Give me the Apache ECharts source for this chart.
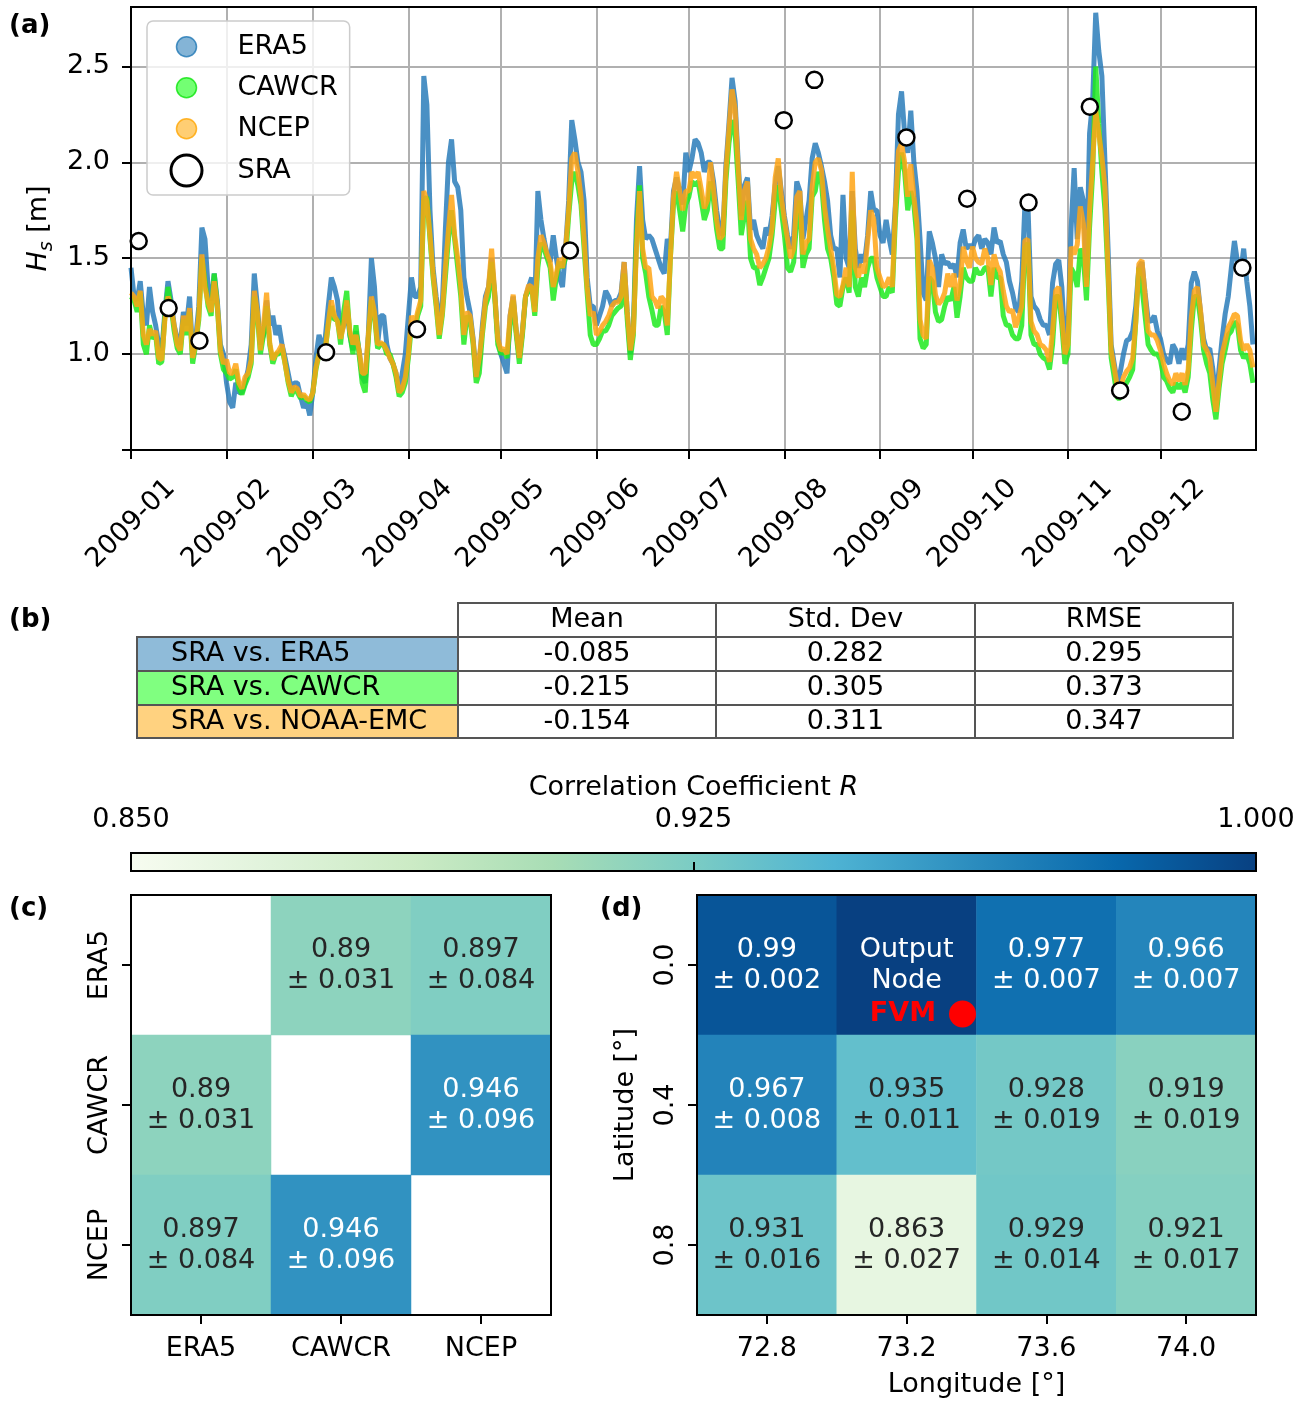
<!DOCTYPE html>
<html>
<head>
<meta charset="utf-8">
<script src="https://cdn.jsdelivr.net/npm/echarts@6/dist/echarts.min.js"></script>
<style>
  html, body { margin: 0; padding: 0; background: #fff; }
  #chart { width: 1307px; height: 1403px; }
</style>
</head>
<body>
<div id="chart"></div>
<script>
// ---------- data ----------
// daily significant wave height [m], 2009-01-01 .. 2009-12-31
const era5 = [
  1.45,1.30,1.28,1.38,1.20,1.15,1.35,1.22,1.15,1.05,
  1.02,1.22,1.38,1.28,1.15,1.08,1.05,1.22,1.15,1.30,
  1.00,1.08,1.25,1.66,1.60,1.35,1.28,1.42,1.28,1.05,
  1.00,0.85,0.75,0.72,0.85,0.80,0.80,0.85,0.92,1.05,
  1.42,1.25,1.05,1.10,1.28,1.15,1.20,1.10,1.15,1.05,
  0.98,0.90,0.82,0.85,0.85,0.78,0.72,0.75,0.68,0.80,
  0.98,1.10,1.05,1.08,1.25,1.40,1.35,1.28,1.10,1.15,
  1.25,1.10,1.02,1.12,1.02,0.88,0.85,1.10,1.50,1.35,
  1.05,1.20,1.20,1.05,0.98,0.95,0.90,0.80,0.90,1.00,
  1.20,1.40,1.30,1.30,1.35,2.45,2.30,1.75,1.45,1.30,
  1.20,1.25,1.65,2.00,2.12,1.90,1.87,1.75,1.40,1.30,
  1.22,1.08,0.88,0.95,1.15,1.30,1.35,1.50,1.32,1.08,
  1.00,0.95,0.90,1.20,1.30,1.12,0.98,1.12,1.30,1.35,
  1.40,1.25,1.85,1.70,1.60,1.52,1.48,1.62,1.50,1.40,
  1.35,1.55,1.80,2.22,2.12,2.00,1.95,1.80,1.40,1.25,
  1.25,1.15,1.20,1.25,1.33,1.30,1.25,1.28,1.28,1.32,
  1.48,1.22,1.00,1.15,1.70,1.98,1.70,1.60,1.62,1.60,
  1.55,1.50,1.45,1.42,1.60,1.55,1.85,1.92,1.85,1.78,
  2.05,1.95,2.02,2.12,2.10,2.05,1.95,2.00,2.00,1.90,
  1.75,1.65,1.62,1.98,2.20,2.44,2.32,2.00,1.72,1.88,
  1.92,1.65,1.70,1.62,1.58,1.55,1.66,1.62,1.72,1.88,
  1.98,1.85,1.72,1.62,1.55,1.62,1.90,1.85,1.60,1.70,
  1.80,2.02,2.10,2.05,1.98,1.90,1.80,1.62,1.55,1.55,
  1.40,1.83,1.50,1.45,1.85,1.55,1.45,1.52,1.48,1.62,
  1.85,1.75,1.75,1.62,1.58,1.70,1.60,1.52,1.78,2.25,
  2.37,2.15,2.05,2.27,2.00,1.85,1.60,1.32,1.28,1.64,
  1.58,1.50,1.35,1.52,1.47,1.48,1.45,1.47,1.40,1.58,
  1.65,1.55,1.57,1.55,1.60,1.62,1.55,1.60,1.58,1.52,
  1.66,1.58,1.59,1.52,1.48,1.38,1.32,1.24,1.22,1.38,
  1.77,1.78,1.30,1.25,1.23,1.18,1.15,1.15,1.10,1.37,
  1.47,1.49,1.35,1.05,1.12,1.65,1.97,1.60,1.87,1.80,
  1.40,2.15,2.32,2.78,2.58,2.45,2.00,1.55,1.05,0.95,
  0.85,0.91,1.00,1.07,1.08,1.12,1.25,1.45,1.48,1.32,
  1.18,1.17,1.20,1.12,1.08,1.00,0.97,0.95,1.05,1.02,
  0.95,1.03,0.97,1.05,1.37,1.43,1.38,1.22,1.08,1.02,
  1.03,0.92,0.76,0.92,1.08,1.21,1.30,1.45,1.59,1.48,
  1.42,1.55,1.38,1.25,1.05
];
const cawcr = [
  1.30,1.28,1.22,1.32,1.05,1.00,1.15,1.08,1.10,0.95,
  0.96,1.20,1.35,1.25,1.12,1.03,1.00,1.18,1.10,1.22,
  0.95,1.05,1.18,1.50,1.38,1.25,1.20,1.42,1.25,1.00,
  0.92,0.90,0.87,0.88,0.92,0.82,0.79,0.84,0.88,0.95,
  1.30,1.20,1.00,1.10,1.25,1.05,0.95,1.00,1.00,1.03,
  0.95,0.85,0.78,0.82,0.80,0.77,0.78,0.76,0.75,0.80,
  0.92,1.00,1.00,1.02,1.15,1.25,1.18,1.18,1.05,1.22,
  1.33,1.10,1.00,1.15,1.00,0.85,0.80,1.08,1.28,1.20,
  1.03,1.05,1.05,1.00,1.00,0.95,0.88,0.78,0.80,0.85,
  0.98,1.15,1.10,1.20,1.25,1.80,1.82,1.60,1.40,1.25,
  1.08,1.20,1.40,1.60,1.75,1.60,1.45,1.30,1.05,1.20,
  1.18,1.05,0.85,0.90,1.10,1.25,1.30,1.48,1.30,1.05,
  1.00,1.02,0.98,1.15,1.28,1.10,0.95,1.10,1.30,1.33,
  1.35,1.20,1.45,1.58,1.55,1.50,1.45,1.28,1.40,1.48,
  1.45,1.50,1.72,1.90,1.95,1.88,1.78,1.55,1.32,1.10,
  1.05,1.05,1.08,1.12,1.12,1.15,1.20,1.22,1.24,1.25,
  1.42,1.18,0.97,1.10,1.60,1.88,1.50,1.42,1.30,1.23,
  1.15,1.15,1.25,1.22,1.10,1.50,1.78,1.85,1.75,1.64,
  1.78,1.82,1.90,1.88,1.90,1.80,1.70,1.75,1.90,1.80,
  1.65,1.55,1.55,1.90,2.10,2.22,2.15,1.90,1.62,1.72,
  1.80,1.50,1.45,1.45,1.36,1.40,1.45,1.50,1.62,1.80,
  1.88,1.75,1.62,1.45,1.43,1.48,1.70,1.80,1.45,1.52,
  1.55,1.82,1.85,1.95,1.90,1.70,1.55,1.50,1.40,1.26,
  1.25,1.35,1.40,1.32,1.75,1.35,1.30,1.40,1.35,1.45,
  1.50,1.50,1.40,1.35,1.30,1.30,1.35,1.32,1.70,1.95,
  2.05,1.95,1.75,1.85,1.78,1.60,1.08,1.03,1.05,1.40,
  1.38,1.22,1.17,1.18,1.25,1.30,1.28,1.35,1.19,1.30,
  1.45,1.40,1.38,1.38,1.45,1.42,1.42,1.45,1.45,1.30,
  1.45,1.40,1.40,1.20,1.15,1.15,1.10,1.08,1.08,1.15,
  1.55,1.58,1.10,1.05,1.05,1.00,0.98,0.97,0.92,1.05,
  1.30,1.30,1.15,0.95,1.00,1.45,1.42,1.35,1.55,1.50,
  1.28,1.66,1.94,2.50,2.20,1.95,1.75,1.40,0.98,0.88,
  0.77,0.77,0.83,0.85,0.88,0.92,1.17,1.45,1.35,1.20,
  1.05,1.02,1.00,1.00,0.97,0.88,0.86,0.82,0.80,0.85,
  0.82,0.85,0.80,0.88,1.12,1.30,1.30,1.18,1.02,0.95,
  0.90,0.76,0.66,0.82,0.95,1.02,1.10,1.12,1.17,1.15,
  1.02,0.98,1.00,0.95,0.85
];
const ncep = [
  1.32,1.30,1.25,1.33,1.10,1.05,1.13,1.10,1.12,0.98,
  0.97,1.18,1.30,1.25,1.15,1.05,1.02,1.20,1.12,1.24,
  0.98,1.06,1.20,1.52,1.35,1.27,1.22,1.38,1.26,1.02,
  0.95,0.97,0.90,0.90,0.95,0.85,0.82,0.88,0.90,0.97,
  1.33,1.22,1.02,1.15,1.32,1.06,0.97,1.00,1.02,1.05,
  0.95,0.86,0.80,0.83,0.82,0.78,0.79,0.77,0.76,0.80,
  0.93,1.00,1.00,1.02,1.16,1.28,1.20,1.17,1.08,1.15,
  1.28,1.12,1.05,1.10,1.02,0.90,0.90,1.10,1.30,1.22,
  1.05,1.06,1.05,1.02,0.98,0.95,0.90,0.80,0.82,0.88,
  1.00,1.20,1.15,1.22,1.28,1.85,1.80,1.62,1.42,1.27,
  1.10,1.22,1.45,1.65,1.83,1.62,1.50,1.35,1.10,1.22,
  1.20,1.07,0.88,0.98,1.12,1.28,1.35,1.55,1.32,1.08,
  1.02,1.03,1.00,1.20,1.31,1.12,0.98,1.12,1.30,1.36,
  1.35,1.22,1.50,1.62,1.58,1.52,1.48,1.35,1.42,1.50,
  1.45,1.55,1.75,2.02,2.05,1.95,1.82,1.60,1.35,1.20,
  1.22,1.10,1.12,1.15,1.17,1.20,1.25,1.27,1.27,1.30,
  1.48,1.22,1.02,1.12,1.55,1.85,1.55,1.45,1.45,1.30,
  1.28,1.24,1.30,1.28,1.15,1.50,1.82,1.95,1.85,1.75,
  1.85,1.85,1.95,1.92,1.95,1.86,1.76,1.80,2.00,1.86,
  1.70,1.60,1.62,1.95,2.17,2.38,2.28,1.97,1.70,1.85,
  1.90,1.60,1.55,1.52,1.45,1.47,1.50,1.56,1.66,1.92,
  2.02,1.82,1.70,1.60,1.50,1.55,1.82,1.85,1.52,1.58,
  1.60,1.87,2.00,2.02,1.96,1.77,1.65,1.55,1.45,1.31,
  1.30,1.36,1.45,1.35,1.95,1.45,1.40,1.47,1.42,1.59,
  1.75,1.70,1.45,1.40,1.35,1.36,1.40,1.35,1.76,2.06,
  2.10,2.00,1.82,1.99,1.82,1.68,1.18,1.10,1.08,1.49,
  1.45,1.31,1.26,1.28,1.32,1.42,1.35,1.42,1.28,1.36,
  1.56,1.49,1.45,1.56,1.50,1.48,1.47,1.55,1.50,1.36,
  1.52,1.46,1.43,1.33,1.25,1.22,1.23,1.14,1.19,1.25,
  1.59,1.60,1.17,1.12,1.10,1.05,1.04,1.02,0.96,1.12,
  1.33,1.35,1.20,1.00,1.05,1.56,1.52,1.57,1.77,1.68,
  1.35,1.75,2.00,2.27,2.15,2.03,1.87,1.45,1.02,0.93,
  0.83,0.82,0.88,0.91,0.93,0.98,1.17,1.47,1.49,1.31,
  1.12,1.10,1.10,1.07,1.02,0.95,0.90,0.86,0.84,0.90,
  0.86,0.90,0.84,0.92,1.19,1.33,1.35,1.23,1.05,1.02,
  0.98,0.84,0.70,0.86,1.00,1.07,1.14,1.17,1.21,1.20,
  1.07,1.02,1.05,1.02,0.93
];
const seriesStart = '2009-01-01';
const seriesEnd = '2010-01-01';

// satellite radar altimetry passes
const sraTimes = [
  '2009-01-03 12:00','2009-01-13 05:00','2009-01-23 05:00','2009-03-05 07:00',
  '2009-04-03 19:00','2009-05-23 10:00','2009-07-31 19:00','2009-08-10 17:00',
  '2009-09-09 14:00','2009-09-29 07:00','2009-10-19 05:00','2009-11-08 02:00',
  '2009-11-17 22:00','2009-12-07 22:00','2009-12-27 14:00'
];
const sraHs = [1.59, 1.24, 1.07, 1.01, 1.13, 1.54, 2.22, 2.43, 2.13, 1.81, 1.79, 2.29, 0.81, 0.70, 1.45];

const monthTicks = ['2009-01','2009-02','2009-03','2009-04','2009-05','2009-06',
                    '2009-07','2009-08','2009-09','2009-10','2009-11','2009-12'];
const hsLabelTicks = [1.0, 1.5, 2.0, 2.5];
const hsTicks = [0.5, 1.0, 1.5, 2.0, 2.5];

// (b) error statistics
const statCols = ['Mean', 'Std. Dev', 'RMSE'];
const statRows = ['SRA vs. ERA5', 'SRA vs. CAWCR', 'SRA vs. NOAA-EMC'];
const statMean = [-0.085, -0.215, -0.154];
const statStd = [0.282, 0.305, 0.311];
const statRmse = [0.295, 0.373, 0.347];

// (c) model-to-model correlation
const models = ['ERA5', 'CAWCR', 'NCEP'];
const corrModels = [
  [null, 0.89, 0.897],
  [0.89, null, 0.946],
  [0.897, 0.946, null]
];
const corrModelsStd = [
  [null, 0.031, 0.084],
  [0.031, null, 0.096],
  [0.084, 0.096, null]
];

// (d) correlation of neighbouring nodes with the output node
const lonLabels = ['72.8', '73.2', '73.6', '74.0'];
const latLabels = ['0.0', '0.4', '0.8'];
const corrNodes = [
  [0.99, 1.0, 0.977, 0.966],
  [0.967, 0.935, 0.928, 0.919],
  [0.931, 0.863, 0.929, 0.921]
];
const corrNodesStd = [
  [0.002, null, 0.007, 0.007],
  [0.008, 0.011, 0.019, 0.019],
  [0.016, 0.027, 0.014, 0.017]
];
const outputNodeCell = [1, 0];          // [column, row]
const outputNodeText = 'Output\nNode';
const fvmPoint = [73.36, 0.14];         // [lon, lat]

const colorbarTicks = [0.85, 0.925, 1.0];

// ---------- helpers ----------
const FONT = 'DejaVu Sans';
const GNBU = ['#f7fcf0','#e0f3db','#ccebc5','#a8ddb5','#7bccc4','#4eb3d3','#2b8cbe','#0868ac','#084081'];
const RANGE_C = [0.8, 1.0];
const RANGE_D = [0.85, 1.0];

function localTime(s) {
  const [d, t] = s.split(' ');
  const p = d.split('-').map(Number);
  const q = (t || '00:00').split(':').map(Number);
  return new Date(p[0], (p[1] || 1) - 1, p[2] || 1, q[0], q[1]).getTime();
}
function daily(values) {
  const p = seriesStart.split('-').map(Number);
  return values.map((v, i) => [new Date(p[0], p[1] - 1, p[2] + i).getTime(), v]);
}
function monthLabel(v) {
  const d = new Date(v);
  return d.getFullYear() + '-' + String(d.getMonth() + 1).padStart(2, '0');
}
function textColorFor(v, range) {
  return (v - range[0]) / (range[1] - range[0]) > 0.65 ? '#ffffff' : '#262626';
}
function heatData(matrix, stdMatrix, range, special) {
  const out = [];
  matrix.forEach((row, i) => row.forEach((v, j) => {
    if (v == null) return;
    const item = { value: [j, i, v], std: stdMatrix[i][j], label: { color: textColorFor(v, range) } };
    if (special && special.cell[0] === j && special.cell[1] === i) item.note = special.text;
    out.push(item);
  }));
  return out;
}
const heatLabel = {
  show: true, fontFamily: FONT, fontSize: 27, lineHeight: 31,
  formatter: p => p.data.note ? p.data.note : `${p.data.value[2]}\n± ${p.data.std}`
};

const monthTs = monthTicks.map(localTime);
const axisLineStyle = { color: '#000', width: 2 };
const tickStyle = { show: true, length: 9, lineStyle: { color: '#000', width: 2 } };
const labelBase = { color: '#000', fontFamily: FONT, fontSize: 27 };

// legend markers: circles placed inside a 77x34 box
const DOT = 'path://M0 0M77 34M41 17A10 10 0 1 1 21 17A10 10 0 1 1 41 17Z';
const RING = 'path://M0 0M77 34M46.5 17A15.5 15.5 0 1 1 15.5 17A15.5 15.5 0 1 1 46.5 17Z';

// ---------- table (b) ----------
const colX = [137, 458, 716, 975, 1233];
const rowY = [603, 637, 671, 705, 738];
const rowFill = ['#8fbbd9', '#80ff80', '#ffd280'];
const tableChildren = [];
const cellStroke = { stroke: '#555555', lineWidth: 2 };
statCols.forEach((c, j) => {
  tableChildren.push({ type: 'rect', shape: { x: colX[j + 1], y: rowY[0], width: colX[j + 2] - colX[j + 1], height: rowY[1] - rowY[0] },
    style: Object.assign({ fill: '#fff' }, cellStroke) });
  tableChildren.push({ type: 'text', x: (colX[j + 1] + colX[j + 2]) / 2, y: (rowY[0] + rowY[1]) / 2,
    style: { text: c, fontFamily: FONT, fontSize: 27, fill: '#000', align: 'center', verticalAlign: 'middle' } });
});
const statCells = [statMean, statStd, statRmse];
statRows.forEach((r, i) => {
  const y0 = rowY[i + 1], y1 = rowY[i + 2];
  tableChildren.push({ type: 'rect', shape: { x: colX[0], y: y0, width: colX[1] - colX[0], height: y1 - y0 },
    style: Object.assign({ fill: rowFill[i] }, cellStroke) });
  tableChildren.push({ type: 'text', x: colX[0] + 34, y: (y0 + y1) / 2,
    style: { text: r, fontFamily: FONT, fontSize: 27, fill: '#000', align: 'left', verticalAlign: 'middle' } });
  statCells.forEach((col, j) => {
    tableChildren.push({ type: 'rect', shape: { x: colX[j + 1], y: y0, width: colX[j + 2] - colX[j + 1], height: y1 - y0 },
      style: Object.assign({ fill: '#fff' }, cellStroke) });
    tableChildren.push({ type: 'text', x: (colX[j + 1] + colX[j + 2]) / 2, y: (y0 + y1) / 2,
      style: { text: col[i].toFixed(3), fontFamily: FONT, fontSize: 27, fill: '#000', align: 'center', verticalAlign: 'middle' } });
  });
});

function panelLetter(t, x, y) {
  return { type: 'text', x: x, y: y,
    style: { text: t, fontFamily: FONT, fontSize: 26, fontWeight: 'bold', fill: '#000', align: 'left', verticalAlign: 'middle' } };
}

// ---------- chart ----------
const chart = echarts.init(document.getElementById('chart'), null, { renderer: 'canvas' });

const option = {
  animation: false,
  backgroundColor: '#fff',
  textStyle: { fontFamily: FONT },
  grid: [
    { left: 131, top: 7, width: 1125, height: 443, show: true, borderColor: '#000', borderWidth: 2, z: 5 },
    { left: 131, top: 853, width: 1125, height: 18, show: true, borderColor: '#000', borderWidth: 2,
      backgroundColor: new echarts.graphic.LinearGradient(0, 0, 1, 0,
        GNBU.map((c, i) => ({ offset: i / (GNBU.length - 1), color: c }))) },
    { left: 131, top: 895, width: 420, height: 420, show: true, borderColor: '#000', borderWidth: 2, z: 10 },
    { left: 697, top: 895, width: 559, height: 420, show: true, borderColor: '#000', borderWidth: 2, z: 10 },
    { left: 697, top: 895, width: 559, height: 420, show: false }
  ],
  xAxis: [
    { type: 'value', gridIndex: 0, min: localTime(seriesStart), max: localTime(seriesEnd),
      axisLine: { show: true, lineStyle: axisLineStyle },
      axisTick: Object.assign({ customValues: monthTs }, tickStyle),
      axisLabel: Object.assign({ customValues: monthTs, rotate: 45, align: 'center', verticalAlign: 'middle', margin: 74,
        formatter: monthLabel }, labelBase),
      splitLine: { show: true, lineStyle: { color: '#b0b0b0', width: 2 } } },
    { type: 'value', gridIndex: 1, position: 'top', min: 0.85, max: 1.0, interval: 0.075,
      axisLine: { show: true, lineStyle: axisLineStyle },
      axisTick: Object.assign({ customValues: colorbarTicks }, tickStyle),
      axisLabel: Object.assign({ customValues: colorbarTicks, margin: 20, formatter: v => v.toFixed(3) }, labelBase),
      splitLine: { show: false },
      name: 'Correlation Coefficient {i|R}', nameLocation: 'middle', nameGap: 52,
      nameTextStyle: { color: '#000', fontFamily: FONT, fontSize: 27,
        rich: { i: { fontStyle: 'italic', fontFamily: FONT, fontSize: 27, color: '#000' } } } },
    { type: 'category', gridIndex: 2, data: models, z: 10,
      axisLine: { show: true, lineStyle: axisLineStyle },
      axisTick: Object.assign({ alignWithLabel: true }, tickStyle),
      axisLabel: Object.assign({ margin: 20, interval: 0 }, labelBase),
      splitLine: { show: false } },
    { type: 'category', gridIndex: 3, data: lonLabels, z: 10,
      axisLine: { show: true, lineStyle: axisLineStyle },
      axisTick: Object.assign({ alignWithLabel: true }, tickStyle),
      axisLabel: Object.assign({ margin: 20, interval: 0 }, labelBase),
      splitLine: { show: false },
      name: 'Longitude [°]', nameLocation: 'middle', nameGap: 56,
      nameTextStyle: { color: '#000', fontFamily: FONT, fontSize: 27 } },
    { type: 'value', gridIndex: 4, min: 72.6, max: 74.2, show: false }
  ],
  yAxis: [
    { type: 'value', gridIndex: 0, min: 0.5, max: 2.81, interval: 0.5,
      axisLine: { show: true, lineStyle: axisLineStyle },
      axisTick: Object.assign({ customValues: hsTicks }, tickStyle),
      axisLabel: Object.assign({ customValues: hsLabelTicks, margin: 21, formatter: v => v.toFixed(1) }, labelBase),
      splitLine: { show: true, lineStyle: { color: '#b0b0b0', width: 2 } },
      name: '{h|H}{s|s}{t| [m]}', nameLocation: 'middle', nameRotate: 90, nameGap: 70,
      nameTextStyle: { color: '#000', rich: {
        h: { fontStyle: 'italic', fontFamily: FONT, fontSize: 27, lineHeight: 34, color: '#000' },
        s: { fontStyle: 'italic', fontFamily: FONT, fontSize: 19, lineHeight: 18, verticalAlign: 'bottom', color: '#000' },
        t: { fontFamily: FONT, fontSize: 27, lineHeight: 34, color: '#000' } } } },
    { type: 'value', gridIndex: 1, min: 0, max: 1, show: false },
    { type: 'category', gridIndex: 2, data: models, inverse: true, z: 10,
      axisLine: { show: true, lineStyle: axisLineStyle },
      axisTick: Object.assign({ alignWithLabel: true }, tickStyle),
      axisLabel: Object.assign({ rotate: 90, margin: 18, interval: 0 }, labelBase),
      splitLine: { show: false } },
    { type: 'category', gridIndex: 3, data: latLabels, inverse: true, z: 10,
      axisLine: { show: true, lineStyle: axisLineStyle },
      axisTick: Object.assign({ alignWithLabel: true }, tickStyle),
      axisLabel: Object.assign({ rotate: 90, margin: 18, interval: 0 }, labelBase),
      splitLine: { show: false },
      name: 'Latitude [°]', nameLocation: 'middle', nameRotate: 90, nameGap: 58,
      nameTextStyle: { color: '#000', fontFamily: FONT, fontSize: 27 } },
    { type: 'value', gridIndex: 4, min: -0.2, max: 1.0, inverse: true, show: false }
  ],
  visualMap: [
    { type: 'continuous', show: false, seriesIndex: 4, dimension: 2, min: RANGE_C[0], max: RANGE_C[1], inRange: { color: GNBU } },
    { type: 'continuous', show: false, seriesIndex: 5, dimension: 2, min: RANGE_D[0], max: RANGE_D[1], inRange: { color: GNBU } }
  ],
  legend: {
    left: 147, top: 21, orient: 'vertical', selectedMode: false,
    padding: [8, 12, 6, 7], itemGap: 5.5, itemWidth: 77, itemHeight: 34,
    backgroundColor: 'rgba(255,255,255,0.8)', borderColor: '#cccccc', borderWidth: 1.5, borderRadius: 6,
    textStyle: { color: '#000', fontFamily: FONT, fontSize: 27 },
    data: [
      { name: 'ERA5', icon: DOT, itemStyle: { color: 'rgba(31,119,180,0.55)', borderColor: 'rgba(31,119,180,0.8)', borderWidth: 1.5, opacity: 1 } },
      { name: 'CAWCR', icon: DOT, itemStyle: { color: 'rgba(0,255,0,0.55)', borderColor: 'rgba(0,225,0,0.75)', borderWidth: 1.5, opacity: 1 } },
      { name: 'NCEP', icon: DOT, itemStyle: { color: 'rgba(255,165,0,0.55)', borderColor: 'rgba(255,165,0,0.8)', borderWidth: 1.5, opacity: 1 } },
      { name: 'SRA', icon: RING, itemStyle: { color: '#ffffff', borderColor: '#000000', borderWidth: 3, opacity: 1 } }
    ]
  },
  series: [
    { name: 'ERA5', type: 'line', xAxisIndex: 0, yAxisIndex: 0, data: daily(era5), showSymbol: false, z: 2,
      lineStyle: { color: '#2a7cba', width: 5, opacity: 0.85 }, itemStyle: { color: '#1f77b4' }, emphasis: { disabled: true } },
    { name: 'CAWCR', type: 'line', xAxisIndex: 0, yAxisIndex: 0, data: daily(cawcr), showSymbol: false, z: 3,
      lineStyle: { color: '#1eea1e', width: 5, opacity: 0.85 }, itemStyle: { color: '#00ff00' }, emphasis: { disabled: true } },
    { name: 'NCEP', type: 'line', xAxisIndex: 0, yAxisIndex: 0, data: daily(ncep), showSymbol: false, z: 4,
      lineStyle: { color: '#ffa514', width: 5, opacity: 0.85 }, itemStyle: { color: '#ffa500' }, emphasis: { disabled: true } },
    { name: 'SRA', type: 'scatter', xAxisIndex: 0, yAxisIndex: 0, z: 6,
      data: sraTimes.map((t, i) => [localTime(t), sraHs[i]]), symbol: 'circle', symbolSize: 16,
      itemStyle: { color: '#ffffff', borderColor: '#000000', borderWidth: 2.5, opacity: 1 }, emphasis: { disabled: true } },
    { name: 'corrModels', type: 'heatmap', xAxisIndex: 2, yAxisIndex: 2,
      data: heatData(corrModels, corrModelsStd, RANGE_C), label: heatLabel, emphasis: { disabled: true } },
    { name: 'corrNodes', type: 'heatmap', xAxisIndex: 3, yAxisIndex: 3,
      data: heatData(corrNodes, corrNodesStd, RANGE_D, { cell: outputNodeCell, text: outputNodeText }),
      label: heatLabel, emphasis: { disabled: true } },
    { name: 'FVM', type: 'scatter', xAxisIndex: 4, yAxisIndex: 4, z: 8,
      data: [fvmPoint], symbol: 'circle', symbolSize: 27, itemStyle: { color: '#ff0000', opacity: 1 },
      label: { show: true, position: 'left', distance: 13, formatter: 'FVM', color: '#ff0000',
        fontFamily: FONT, fontSize: 27, fontWeight: 'bold' }, emphasis: { disabled: true } }
  ],
  graphic: [
    panelLetter('(a)', 9, 26),
    panelLetter('(b)', 9, 620),
    panelLetter('(c)', 9, 909),
    panelLetter('(d)', 600, 909),
    { type: 'group', children: tableChildren }
  ]
};

chart.setOption(option);
</script>
</body>
</html>
